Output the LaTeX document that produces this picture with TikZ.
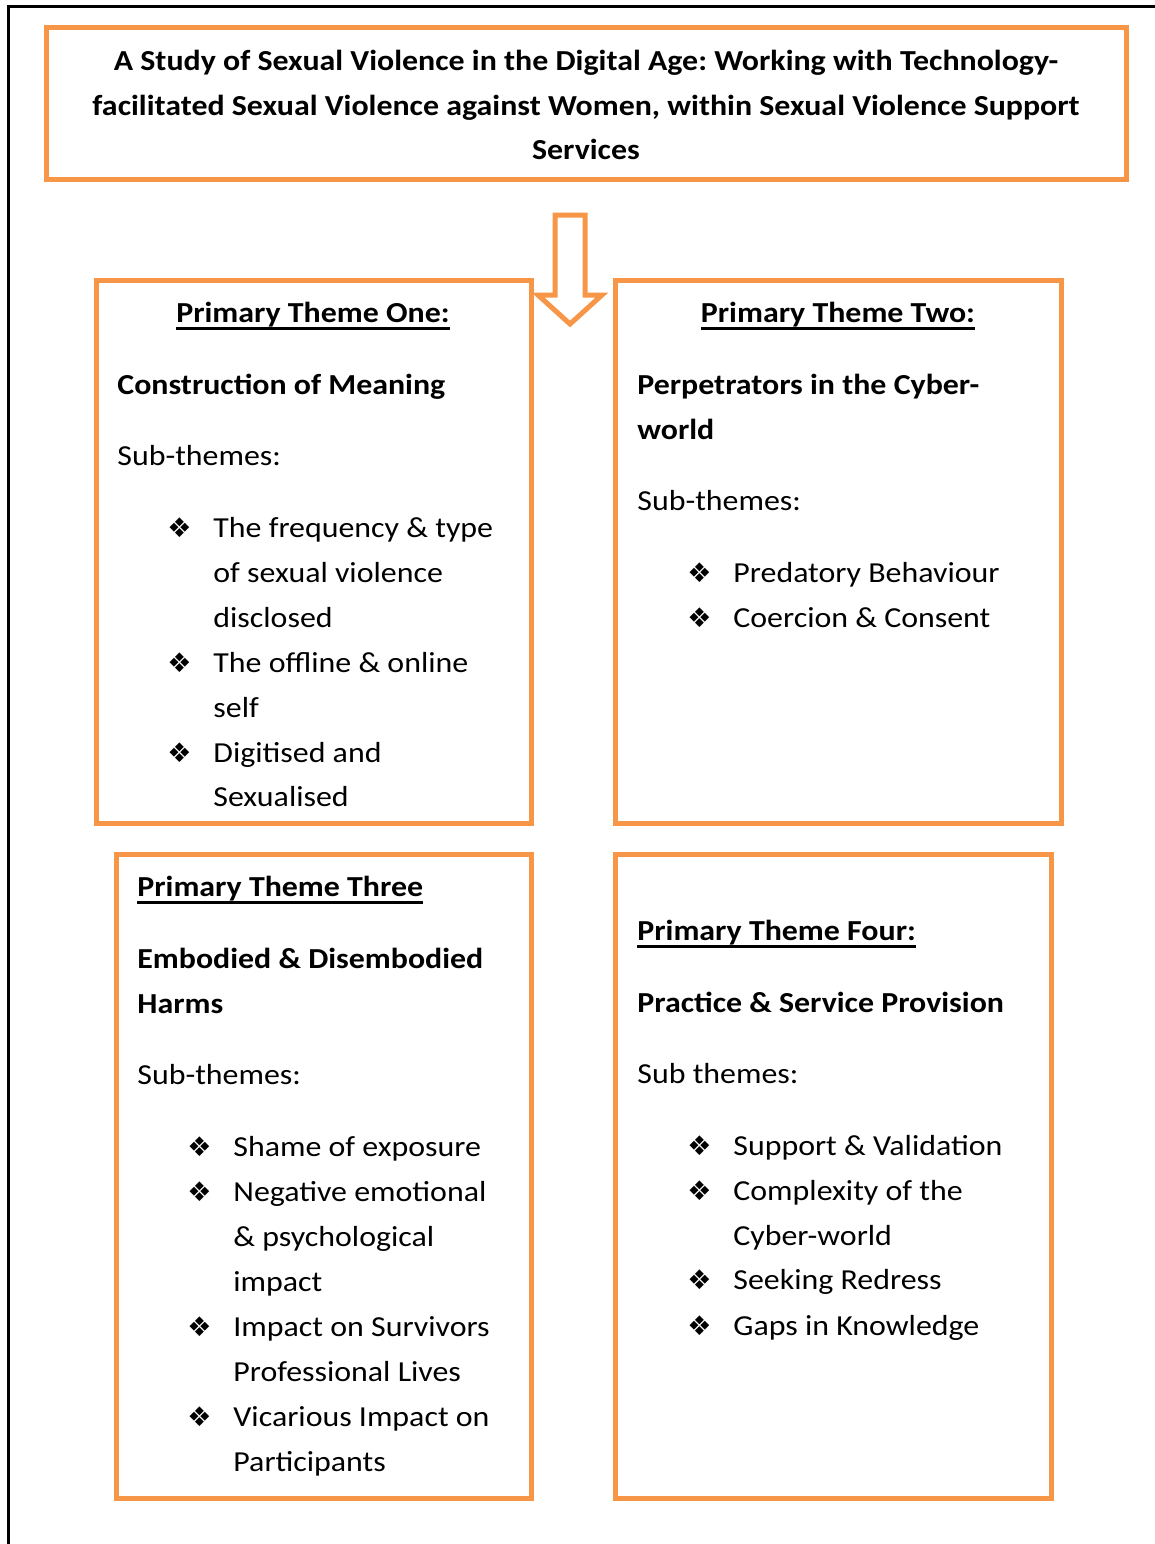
\documentclass[tikz,border=0pt]{standalone}
\usepackage{fontspec}
\setmainfont{Carlito}[FakeStretch=1.1]
\newfontfamily\bulletfont{DejaVu Sans}
\usepackage{tikz}
\frenchspacing

\definecolor{themeorange}{HTML}{F79646}

\tikzset{
	themebox/.style={draw=themeorange, line width=2.5pt},
	txt/.style={anchor=base west, inner sep=0pt, font=\fontsize{14.5}{22.5}\selectfont},
	head/.style={txt, font=\fontsize{14.5}{22.5}\selectfont\bfseries},
	bul/.style={anchor=base west, inner sep=0pt, font=\bulletfont\fontsize{13.5}{16}\selectfont}
}

% thick underline close under the baseline
\newcommand{\themehead}[1]{\setbox0\hbox{#1}\rlap{\rule[-3.8pt]{\wd0}{1.4pt}}\box0}

\begin{document}
\begin{tikzpicture}[x=0.5pt, y=-0.5pt]
	\useasboundingbox (0,0) rectangle (1155,1544);
	% outer frame
	\draw[line width=1.5pt] (8,1544) -- (8,6) -- (1160,6);

	% title
	\draw[themebox] (46,27) rectangle (1126,179);
	\node[head, anchor=base] (title1) at (586,70) {A Study of Sexual Violence in the Digital Age: Working with Technology-};
	\node[head, anchor=base] (title2) at (586,115) {facilitated Sexual Violence against Women, within Sexual Violence Support};
	\node[head, anchor=base] (title3) at (586,159) {Services};

	% block arrow
	\draw[themeorange, line width=2.5pt, line join=miter] (555,215) -- (585,215) -- (585,295) -- (602,295) -- (570,324) -- (538,295) -- (555,295) -- cycle;

	% theme one
	\draw[themebox] (96,280) rectangle (531,823);
	\node[head, anchor=base] (h1) at (313,322) {\themehead{Primary Theme One:}};
	\node[head] (t1) at (117,394) {Construction of Meaning};
	\node[txt] (s1) at (117,465) {Sub-themes:};
	\foreach \y in {537,672,762}
		\node[bul] (b1-\y) at (167,\y) {❖};
	\foreach \y/\t in {537/The frequency \& type, 582/of sexual violence, 627/disclosed,
		672/The offline \& online, 717/self, 762/Digitised and, 806/Sexualised}
		\node[txt] (l1-\y) at (213,\y) {\t};

	% theme two
	\draw[themebox] (615,280) rectangle (1061,823);
	\node[head, anchor=base] (h2) at (838,322) {\themehead{Primary Theme Two:}};
	\node[head] (t2a) at (637,394) {Perpetrators in the Cyber-};
	\node[head] (t2b) at (637,439) {world};
	\node[txt] (s2) at (637,510) {Sub-themes:};
	\foreach \y in {582,627}
		\node[bul] (b2-\y) at (687,\y) {❖};
	\foreach \y/\t in {582/Predatory Behaviour, 627/Coercion \& Consent}
		\node[txt] (l2-\y) at (733,\y) {\t};

	% theme three
	\draw[themebox] (116,854) rectangle (531,1498);
	\node[head] (h3) at (137,896) {\themehead{Primary Theme Three}};
	\node[head] (t3a) at (137,968) {Embodied \& Disembodied};
	\node[head] (t3b) at (137,1013) {Harms};
	\node[txt] (s3) at (137,1084) {Sub-themes:};
	\foreach \y in {1156,1201,1336,1426}
		\node[bul] (b3-\y) at (187,\y) {❖};
	\foreach \y/\t in {1156/Shame of exposure, 1201/Negative emotional, 1246/\& psychological,
		1291/impact, 1336/Impact on Survivors, 1381/Professional Lives,
		1426/Vicarious Impact on, 1471/Participants}
		\node[txt] (l3-\y) at (233,\y) {\t};

	% theme four
	\draw[themebox] (615,854) rectangle (1051,1498);
	\node[head] (h4) at (637,940) {\themehead{Primary Theme Four:}};
	\node[head] (t4) at (637,1012) {Practice \& Service Provision};
	\node[txt] (s4) at (637,1083) {Sub themes:};
	\foreach \y in {1155,1200,1289,1335}
		\node[bul] (b4-\y) at (687,\y) {❖};
	\foreach \y/\t in {1155/Support \& Validation, 1200/Complexity of the, 1245/Cyber-world,
		1289/Seeking Redress, 1335/Gaps in Knowledge}
		\node[txt] (l4-\y) at (733,\y) {\t};
\end{tikzpicture}
\end{document}
